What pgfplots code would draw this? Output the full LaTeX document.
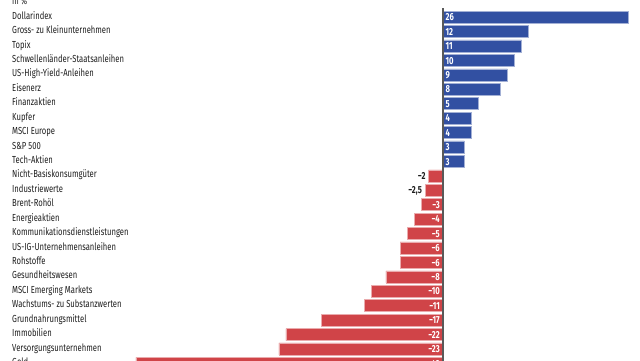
\documentclass[border=0pt]{standalone}
\usepackage{pgfplots}
\pgfplotsset{compat=1.18}
\usepackage{fontspec}
\setmainfont{Fira Sans}[FakeStretch=0.75]
\definecolor{barblue}{RGB}{50,80,162}
\definecolor{barred}{RGB}{208,68,72}
\definecolor{txt}{RGB}{30,30,30}
\begin{document}
\begin{tikzpicture}[x=1pt,y=1pt]
\begin{scope}
\clip (0,0) rectangle (640,360);
\begin{axis}[
 at={(12pt,364.6pt)}, anchor=north west,
 scale only axis, width=628pt, height=382.4pt,
 xmin=-60.36, xmax=27.59, ymin=-1.5, ymax=25, y dir=reverse,
 axis line style={draw=none}, tick style={draw=none},
 xtick=\empty,
 ytick={-1,0,...,24},
 yticklabels={in \%,Dollarindex,Gross- zu Kleinunternehmen,Topix,Schwellenländer-Staatsanleihen,US-High-Yield-Anleihen,Eisenerz,Finanzaktien,Kupfer,MSCI Europe,S\&P 500,Tech-Aktien,Nicht-Basiskonsumgüter,Industriewerte,Brent-Rohöl,Energieaktien,Kommunikationsdienstleistungen,US-IG-Unternehmensanleihen,Rohstoffe,Gesundheitswesen,MSCI Emerging Markets,Wachstums- zu Substanzwerten,Grundnahrungsmittel,Immobilien,Versorgungsunternehmen,Gold},
 yticklabel style={anchor=west, inner sep=0pt, text height=7.4pt, text depth=1.6pt, yshift=0.8pt, font=\fontsize{10.2}{11}\selectfont, text=txt},
 clip=false,
]
\addplot[xbar, bar width=12pt, bar shift=0pt, fill=barblue, draw=white!55!barblue, line width=0.5pt]
 coordinates {(26,0) (12,1) (11,2) (10,3) (9,4) (8,5) (5,6) (4,7) (4,8) (3,9) (3,10)};
\addplot[xbar, bar width=12pt, bar shift=0pt, fill=barred, draw=white!55!barred, line width=0.5pt]
 coordinates {(-2,11) (-2.5,12) (-3,13) (-4,14) (-5,15) (-6,16) (-6,17) (-8,18) (-10,19) (-11,20) (-17,21) (-22,22) (-23,23) (-43,24)};
% labels inside positive bars
\addplot[draw=none, point meta=explicit symbolic, nodes near coords,
 nodes near coords style={anchor=west, xshift=2.5pt, inner sep=0pt, text height=7.4pt, text depth=0pt, text=white, font=\fontsize{10.2}{11}\selectfont\bfseries}]
 coordinates {(0,0)[26] (0,1)[12] (0,2)[11] (0,3)[10] (0,4)[9] (0,5)[8] (0,6)[5] (0,7)[4] (0,8)[4] (0,9)[3] (0,10)[3]};
% labels inside negative bars
\addplot[draw=none, point meta=explicit symbolic, nodes near coords,
 nodes near coords style={anchor=east, xshift=-3pt, inner sep=0pt, text height=7.4pt, text depth=0pt, text=white, font=\fontsize{10.2}{11}\selectfont\bfseries}]
 coordinates {(0,13)[−3] (0,14)[−4] (0,15)[−5] (0,16)[−6] (0,17)[−6] (0,18)[−8] (0,19)[−10] (0,20)[−11] (0,21)[−17] (0,22)[−22] (0,23)[−23] (0,24)[−43]};
% labels outside small negative bars
\addplot[draw=none, point meta=explicit symbolic, nodes near coords,
 nodes near coords style={anchor=east, xshift=-3pt, inner sep=0pt, text height=7.4pt, text depth=0pt, text=txt, font=\fontsize{10.2}{11}\selectfont\bfseries}]
 coordinates {(-2,11)[−2] (-2.5,12)[−2,5]};
\draw[line width=1.4pt, color=black!65] (axis cs:0,-0.62) -- (axis cs:0,25);
\end{axis}
\end{scope}
\pgfresetboundingbox
\useasboundingbox (0,0) rectangle (640,360);
\end{tikzpicture}
\end{document}
